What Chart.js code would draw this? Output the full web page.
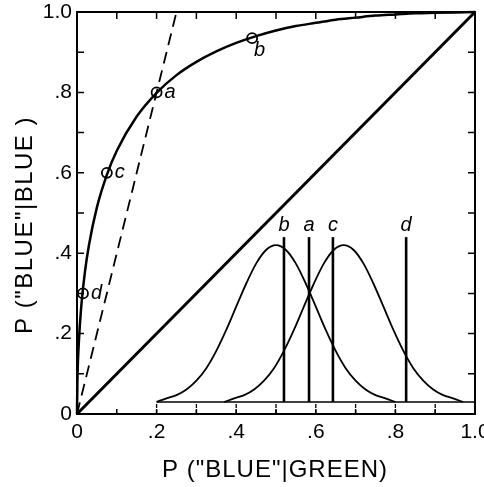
<!DOCTYPE html>
<html>
<head>
<meta charset="utf-8">
<script src="https://cdn.jsdelivr.net/npm/chart.js@4"></script>
<style>
  html, body { margin: 0; padding: 0; background: #fff; }
</style>
</head>
<body>
<canvas id="roc" width="484" height="487"></canvas>
<script>
// axis ticks
const tickValues = [0, 0.2, 0.4, 0.6, 0.8, 1.0];
const tickLabels = ['0', '.2', '.4', '.6', '.8', '1.0'];
const minorTicks = [0.1, 0.2, 0.3, 0.4, 0.5, 0.6, 0.7, 0.8, 0.9];

// ROC curve
const rocX = [0, 0.001, 0.005, 0.01, 0.02, 0.03, 0.05, 0.075, 0.1, 0.15, 0.2, 0.25, 0.3, 0.35, 0.4, 0.45, 0.5, 0.55, 0.6, 0.65, 0.7, 0.75, 0.8, 0.85, 0.9, 1.0];
const rocY = [0, 0.079, 0.185, 0.259, 0.354, 0.42, 0.514, 0.595, 0.655, 0.74, 0.799, 0.843, 0.876, 0.902, 0.923, 0.94, 0.954, 0.965, 0.973, 0.981, 0.986, 0.991, 0.994, 0.997, 0.998, 1.0];

// marked criterion points on the ROC
const markX = [0.015, 0.075, 0.2, 0.44];
const markY = [0.30, 0.60, 0.80, 0.935];
const markNames = ['d', 'c', 'a', 'b'];

// dashed line and chance diagonal
const dashX = [0, 0.25];
const dashY = [0, 1.0];
const diagX = [0, 1.0];
const diagY = [0, 1.0];

// inset distributions
const noiseX = [0.2, 0.225, 0.25, 0.275, 0.3, 0.325, 0.35, 0.375, 0.4, 0.425, 0.45, 0.475, 0.5, 0.525, 0.55, 0.575, 0.6, 0.625, 0.65, 0.675, 0.7, 0.725, 0.75, 0.775, 0.8];
const noiseY = [0.03, 0.039, 0.047, 0.061, 0.083, 0.114, 0.157, 0.209, 0.267, 0.324, 0.374, 0.408, 0.42, 0.408, 0.374, 0.324, 0.267, 0.209, 0.157, 0.114, 0.083, 0.061, 0.047, 0.039, 0.03];
const signalX = [0.37, 0.395, 0.42, 0.445, 0.47, 0.495, 0.52, 0.545, 0.57, 0.595, 0.62, 0.645, 0.67, 0.695, 0.72, 0.745, 0.77, 0.795, 0.82, 0.845, 0.87, 0.895, 0.92, 0.945, 0.97];
const signalY = [0.03, 0.039, 0.047, 0.061, 0.083, 0.114, 0.157, 0.209, 0.267, 0.324, 0.374, 0.408, 0.42, 0.408, 0.374, 0.324, 0.267, 0.209, 0.157, 0.114, 0.083, 0.061, 0.047, 0.039, 0.03];

// criteria in the inset
const critX = [0.52, 0.583, 0.643, 0.827];
const critNames = ['b', 'a', 'c', 'd'];
const critLow = 0.03;
const critHigh = 0.44;
const critLabelY = 0.47;

// inset baseline
const insetBaseX = [0.2, 1.0];
const insetBaseY = [0.03, 0.03];
const insetTickX = [0.2, 0.3, 0.4, 0.5, 0.6, 0.7, 0.8, 0.9];

const xTitle = 'P ("BLUE"|GREEN)';
const yTitle = 'P ("BLUE"|BLUE )';

const pts = (xs, ys) => xs.map((x, i) => ({ x: x, y: ys[i] }));
const FONT = '"Liberation Sans", Arial, sans-serif';

const line = (data, width, extra) => Object.assign({
  data: data, showLine: true, borderColor: '#000', borderWidth: width,
  pointRadius: 0, fill: false, clip: false
}, extra || {});

const datasets = [
  line(pts(diagX, diagY), 3),
  line(pts(dashX, dashY), 1.8, { borderDash: [12, 7] }),
  line(pts(rocX, rocY), 2.5, { cubicInterpolationMode: 'monotone' }),
  line(pts(noiseX, noiseY), 1.8, { cubicInterpolationMode: 'monotone' }),
  line(pts(signalX, signalY), 1.8, { cubicInterpolationMode: 'monotone' }),
  line(pts(insetBaseX, insetBaseY), 1.6),
];
critX.forEach(x => datasets.push(line([{ x: x, y: critLow }, { x: x, y: critHigh }], 2.6)));
insetTickX.forEach(x => datasets.push(line([{ x: x, y: 0 }, { x: x, y: insetBaseY[0] }], 1.3, { borderDash: [4, 2] })));
datasets.push({
  data: pts(markX, markY), showLine: false, pointStyle: 'circle', pointRadius: 5,
  pointBorderWidth: 1.8, pointBorderColor: '#000', pointBackgroundColor: 'rgba(0,0,0,0)', clip: false
});
const markIndex = datasets.length - 1;

const framePlugin = {
  id: 'frame',
  afterDatasetsDraw(chart) {
    const { ctx, chartArea: a, scales: { x, y } } = chart;
    ctx.save();
    ctx.strokeStyle = '#000';
    ctx.lineWidth = 2;
    ctx.strokeRect(a.left, a.top, a.right - a.left, a.bottom - a.top);
    ctx.lineWidth = 1.5;
    const len = 7;
    minorTicks.forEach(v => {
      const px = x.getPixelForValue(v), py = y.getPixelForValue(v);
      ctx.beginPath();
      ctx.moveTo(px, a.top); ctx.lineTo(px, a.top + len);
      ctx.moveTo(px, a.bottom); ctx.lineTo(px, a.bottom - 5);
      ctx.moveTo(a.left, py); ctx.lineTo(a.left + len, py);
      ctx.moveTo(a.right, py); ctx.lineTo(a.right - len, py);
      ctx.stroke();
    });

    // point labels
    ctx.fillStyle = '#000';
    ctx.font = 'italic 20px ' + FONT;
    ctx.textBaseline = 'middle';
    ctx.textAlign = 'left';
    const meta = chart.getDatasetMeta(markIndex);
    meta.data.forEach((p, i) => {
      if (markNames[i] === 'b') ctx.fillText(markNames[i], p.x + 2, p.y + 12);
      else ctx.fillText(markNames[i], p.x + 8, p.y);
    });
    ctx.textAlign = 'center';
    critX.forEach((v, i) => ctx.fillText(critNames[i], x.getPixelForValue(v), y.getPixelForValue(critLabelY)));

    // axis titles
    ctx.font = '24px ' + FONT;
    ctx.textAlign = 'center';
    ctx.letterSpacing = '1px';
    ctx.fillText(xTitle, 275, 470);
    ctx.letterSpacing = '1.5px';
    ctx.translate(25, 225);
    ctx.rotate(-Math.PI / 2);
    ctx.fillText(yTitle, 0, 0);
    ctx.restore();
  }
};

new Chart(document.getElementById('roc'), {
  type: 'scatter',
  data: { datasets: datasets },
  options: {
    responsive: false,
    animation: false,
    layout: { padding: { top: 12, right: 9, left: 0, bottom: 0 } },
    plugins: { legend: { display: false }, tooltip: { enabled: false } },
    scales: {
      x: {
        type: 'linear', min: 0, max: 1,
        afterBuildTicks: s => { s.ticks = tickValues.map(v => ({ value: v })); },
        afterFit: s => { s.height = 73; s.paddingLeft = 0; s.paddingRight = 0; },
        ticks: {
          autoSkip: false, maxRotation: 0, padding: 6, color: '#000',
          font: { family: FONT, size: 21 },
          callback: (v, i) => tickLabels[i]
        },
        grid: { display: false, drawTicks: false },
        border: { display: false }
      },
      y: {
        type: 'linear', min: 0, max: 1,
        afterBuildTicks: s => { s.ticks = tickValues.map(v => ({ value: v })); },
        afterFit: s => { s.width = 77; s.paddingTop = 0; s.paddingBottom = 0; },
        ticks: {
          autoSkip: false, padding: 5, color: '#000',
          font: { family: FONT, size: 21 },
          callback: (v, i) => tickLabels[i]
        },
        grid: { display: false, drawTicks: false },
        border: { display: false }
      }
    }
  },
  plugins: [framePlugin]
});
</script>
</body>
</html>
